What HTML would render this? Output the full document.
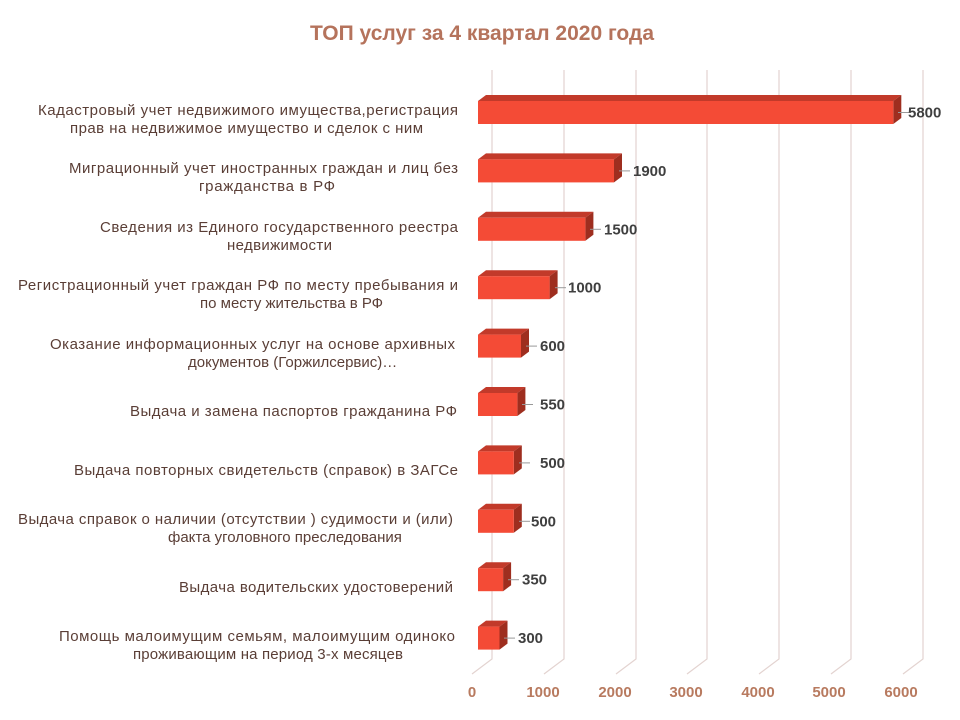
<!DOCTYPE html>
<html><head><meta charset="utf-8"><style>body{margin:0;background:#fff}svg{display:block}</style></head>
<body>
<svg width="960" height="720" xmlns="http://www.w3.org/2000/svg" font-family="Liberation Sans, sans-serif">
<rect width="960" height="720" fill="#fff"/>
<text x="482" y="40" text-anchor="middle" font-size="21" font-weight="bold" fill="#b5735c">ТОП услуг за 4 квартал 2020 года</text>
<g stroke="#e3d3d0" stroke-width="1.2" fill="none">
<path d="M492 70V659L472 674"/><path d="M564 70V659L544 674"/><path d="M636 70V659L616 674"/><path d="M707 70V659L687 674"/><path d="M779 70V659L759 674"/><path d="M851 70V659L831 674"/><path d="M923 70V659L903 674"/>
</g>
<g font-size="15" font-weight="bold" fill="#b87a5f" text-anchor="middle">
<text x="472" y="697">0</text><text x="543" y="697">1000</text><text x="615" y="697">2000</text><text x="686" y="697">3000</text><text x="758" y="697">4000</text><text x="829" y="697">5000</text><text x="901" y="697">6000</text>
</g>
<g transform="translate(0,101)">
<polygon points="478,0 486,-6 901.3,-6 893.3,0" fill="#c23a2a"/><polygon points="893.3,0 901.3,-6 901.3,17 893.3,23" fill="#9e2e1f"/><rect x="478" y="0" width="415.3" height="23" fill="#f44b36"/>
<line x1="898" y1="11.5" x2="909" y2="11.5" stroke="#999"/><text x="908" y="16.5" font-size="15" font-weight="bold" fill="#3f3f3f">5800</text></g>
<g transform="translate(0,159.4)">
<polygon points="478,0 486,-6 622,-6 614,0" fill="#c23a2a"/><polygon points="614,0 622,-6 622,17 614,23" fill="#9e2e1f"/><rect x="478" y="0" width="136" height="23" fill="#f44b36"/>
<line x1="619" y1="11.5" x2="630" y2="11.5" stroke="#999"/><text x="633" y="16.5" font-size="15" font-weight="bold" fill="#3f3f3f">1900</text></g>
<g transform="translate(0,217.8)">
<polygon points="478,0 486,-6 593.4,-6 585.4,0" fill="#c23a2a"/><polygon points="585.4,0 593.4,-6 593.4,17 585.4,23" fill="#9e2e1f"/><rect x="478" y="0" width="107.4" height="23" fill="#f44b36"/>
<line x1="590" y1="11.5" x2="601" y2="11.5" stroke="#999"/><text x="604" y="16.5" font-size="15" font-weight="bold" fill="#3f3f3f">1500</text></g>
<g transform="translate(0,276.2)">
<polygon points="478,0 486,-6 557.6,-6 549.6,0" fill="#c23a2a"/><polygon points="549.6,0 557.6,-6 557.6,17 549.6,23" fill="#9e2e1f"/><rect x="478" y="0" width="71.6" height="23" fill="#f44b36"/>
<line x1="555" y1="11.5" x2="566" y2="11.5" stroke="#999"/><text x="568" y="16.5" font-size="15" font-weight="bold" fill="#3f3f3f">1000</text></g>
<g transform="translate(0,334.6)">
<polygon points="478,0 486,-6 529,-6 521,0" fill="#c23a2a"/><polygon points="521,0 529,-6 529,17 521,23" fill="#9e2e1f"/><rect x="478" y="0" width="43" height="23" fill="#f44b36"/>
<line x1="526" y1="11.5" x2="537" y2="11.5" stroke="#999"/><text x="540" y="16.5" font-size="15" font-weight="bold" fill="#3f3f3f">600</text></g>
<g transform="translate(0,393)">
<polygon points="478,0 486,-6 525.4,-6 517.4,0" fill="#c23a2a"/><polygon points="517.4,0 525.4,-6 525.4,17 517.4,23" fill="#9e2e1f"/><rect x="478" y="0" width="39.4" height="23" fill="#f44b36"/>
<line x1="522" y1="11.5" x2="533" y2="11.5" stroke="#999"/><text x="540" y="16.5" font-size="15" font-weight="bold" fill="#3f3f3f">550</text></g>
<g transform="translate(0,451.4)">
<polygon points="478,0 486,-6 521.8,-6 513.8,0" fill="#c23a2a"/><polygon points="513.8,0 521.8,-6 521.8,17 513.8,23" fill="#9e2e1f"/><rect x="478" y="0" width="35.8" height="23" fill="#f44b36"/>
<line x1="519" y1="11.5" x2="530" y2="11.5" stroke="#999"/><text x="540" y="16.5" font-size="15" font-weight="bold" fill="#3f3f3f">500</text></g>
<g transform="translate(0,509.8)">
<polygon points="478,0 486,-6 521.8,-6 513.8,0" fill="#c23a2a"/><polygon points="513.8,0 521.8,-6 521.8,17 513.8,23" fill="#9e2e1f"/><rect x="478" y="0" width="35.8" height="23" fill="#f44b36"/>
<line x1="519" y1="11.5" x2="530" y2="11.5" stroke="#999"/><text x="531" y="16.5" font-size="15" font-weight="bold" fill="#3f3f3f">500</text></g>
<g transform="translate(0,568.2)">
<polygon points="478,0 486,-6 511.1,-6 503.1,0" fill="#c23a2a"/><polygon points="503.1,0 511.1,-6 511.1,17 503.1,23" fill="#9e2e1f"/><rect x="478" y="0" width="25.1" height="23" fill="#f44b36"/>
<line x1="508" y1="11.5" x2="519" y2="11.5" stroke="#999"/><text x="522" y="16.5" font-size="15" font-weight="bold" fill="#3f3f3f">350</text></g>
<g transform="translate(0,626.6)">
<polygon points="478,0 486,-6 507.5,-6 499.5,0" fill="#c23a2a"/><polygon points="499.5,0 507.5,-6 507.5,17 499.5,23" fill="#9e2e1f"/><rect x="478" y="0" width="21.5" height="23" fill="#f44b36"/>
<line x1="504" y1="11.5" x2="515" y2="11.5" stroke="#999"/><text x="518" y="16.5" font-size="15" font-weight="bold" fill="#3f3f3f">300</text></g>
<g font-size="15" fill="#5a3e36" lengthAdjust="spacingAndGlyphs">
<text x="38" y="115" textLength="420">Кадастровый учет недвижимого имущества,регистрация</text>
<text x="70" y="133" textLength="353">прав на недвижимое имущество и сделок с ним</text>
<text x="69" y="173" textLength="389">Миграционный учет иностранных граждан и лиц без</text>
<text x="199" y="191" textLength="136">гражданства в РФ</text>
<text x="100" y="232" textLength="358">Сведения из Единого государственного реестра</text>
<text x="227" y="250" textLength="105">недвижимости</text>
<text x="18" y="290" textLength="440">Регистрационный учет граждан РФ по месту пребывания и</text>
<text x="200" y="308">по месту жительства в РФ</text>
<text x="50" y="349" textLength="405">Оказание информационных услуг на основе архивных</text>
<text x="188" y="367">документов (Горжилсервис)…</text>
<text x="130" y="416" textLength="327">Выдача и замена паспортов гражданина РФ</text>
<text x="74" y="475" textLength="384">Выдача повторных свидетельств (справок) в ЗАГСе</text>
<text x="18" y="524" textLength="435">Выдача справок о наличии (отсутствии ) судимости и (или)</text>
<text x="168" y="542">факта уголовного преследования</text>
<text x="179" y="592" textLength="274">Выдача водительских удостоверений</text>
<text x="59" y="641" textLength="396">Помощь малоимущим семьям, малоимущим одиноко</text>
<text x="133" y="659" textLength="270">проживающим на период 3-х месяцев</text>
</g>
</svg>
</body></html>
